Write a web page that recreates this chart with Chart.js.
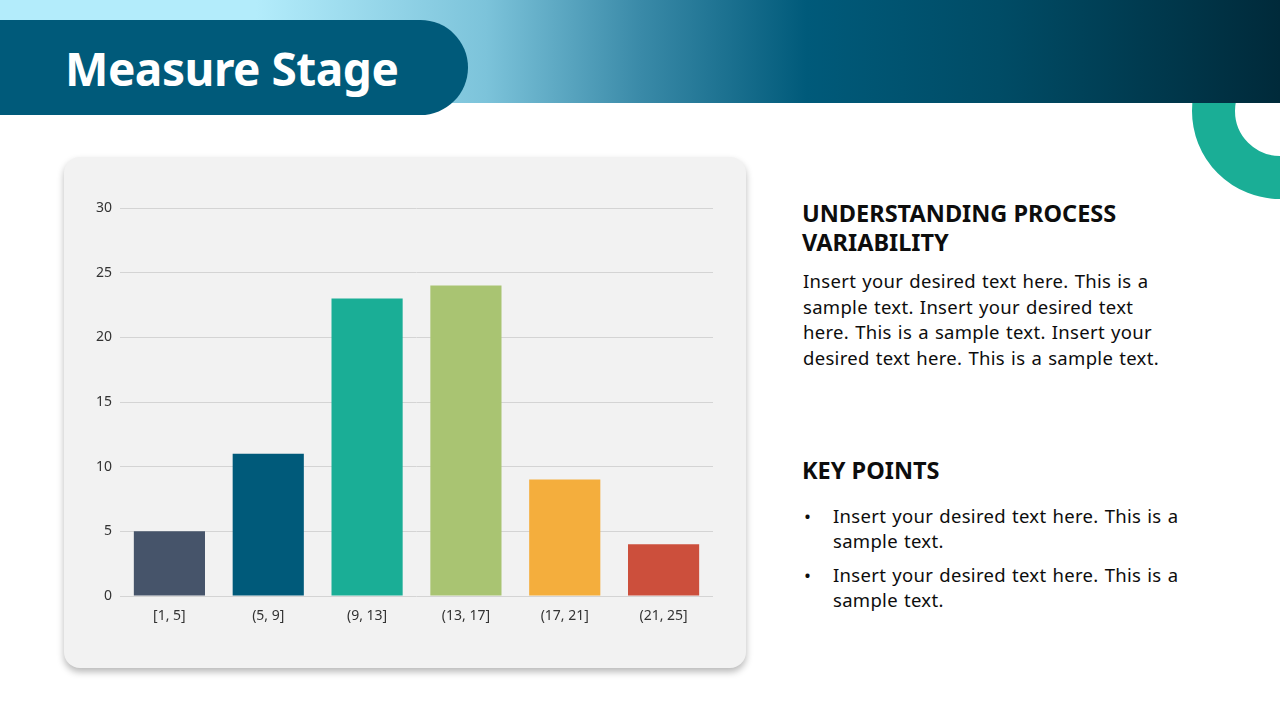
<!DOCTYPE html>
<html>
<head>
<meta charset="utf-8">
<script src="https://cdn.jsdelivr.net/npm/chart.js@4.4.1/dist/chart.umd.min.js"></script>
<style>
    html, body { margin: 0; padding: 0; }
    body { width: 1280px; height: 720px; position: relative; overflow: hidden; background: #fff; font-family: "Noto Sans", sans-serif; }
    .ring { position: absolute; left: 1192px; top: 23px; width: 176px; height: 176px; border-radius: 50%; box-sizing: border-box; border: 43px solid #1aae96; }
    .band { position: absolute; left: 0; top: 0; width: 1280px; height: 103px;
        background: linear-gradient(90deg, #b3ecfb 0%, #b3ecfb 20%, #7cc3da 38%, #3a8aa8 50%, #005a7a 63%, #004c66 78%, #002a3a 100%); }
    .pill { position: absolute; left: 0; top: 20px; width: 468px; height: 95px; background: #005a7a; border-radius: 0 48px 48px 0; }
    .title { position: absolute; left: 65px; top: 37px; color: #fff; font-weight: bold; font-size: 46px; line-height: 62px; letter-spacing: -0.5px; }
    .card { position: absolute; left: 64px; top: 157px; width: 682px; height: 511px; background: #f2f2f2; border-radius: 16px; box-shadow: 0 4px 7px rgba(0,0,0,0.28); }
    #chart-box { position: absolute; left: 64px; top: 157px; width: 682px; height: 511px; }
    .side { position: absolute; left: 802px; width: 420px; color: #0d0d0d; }
    .side h2 { margin: 0; font-size: 23.5px; font-weight: bold; line-height: 29px; }
    .side p { margin: 11px 0 0 1px; font-size: 18.5px; line-height: 25.5px; white-space: nowrap; letter-spacing: 0.3px; word-spacing: 1px; }
    .side ul { margin: 18px 0 0 0; padding: 0; list-style: none; font-size: 18.5px; line-height: 25px; white-space: nowrap; letter-spacing: 0.3px; word-spacing: 1px; }
    .side li { position: relative; padding-left: 31px; margin-bottom: 9px; }
    .side li::before { content: "\2022"; position: absolute; left: 2px; }
</style>
</head>
<body>
<div class="ring"></div>
<div class="band"></div>
<div class="pill"></div>
<div class="title">Measure Stage</div>

<div class="card"></div>
<div id="chart-box"><canvas id="histogram"></canvas></div>

<div class="side" style="top:199px">
    <h2>UNDERSTANDING PROCESS<br>VARIABILITY</h2>
    <p>Insert your desired text here. This is a<br>sample text. Insert your desired text<br>here. This is a sample text. Insert your<br>desired text here. This is a sample text.</p>
</div>
<div class="side" style="top:456px">
    <h2>KEY POINTS</h2>
    <ul>
        <li>Insert your desired text here. This is a<br>sample text.</li>
        <li>Insert your desired text here. This is a<br>sample text.</li>
    </ul>
</div>

<script>
    // интервалы и частоты
    const bins = ['[1, 5]', '(5, 9]', '(9, 13]', '(13, 17]', '(17, 21]', '(21, 25]'];
    const counts = [5, 11, 23, 24, 9, 4];
    const barColors = ['#46546a', '#005a7a', '#1aae96', '#a9c472', '#f4ae3d', '#cc4f3c'];
    const yTicks = [0, 5, 10, 15, 20, 25, 30];

    const tickFont = {family: '"Noto Sans", sans-serif', size: 14};

    new Chart(document.getElementById('histogram'), {
        type: 'bar',
        data: {
            labels: bins,
            datasets: [{
                data: counts,
                backgroundColor: barColors,
                categoryPercentage: 0.72,
                barPercentage: 1
            }]
        },
        options: {
            responsive: true,
            maintainAspectRatio: false,
            animation: false,
            layout: {padding: {left: 0, right: 33, top: 51, bottom: 0}},
            plugins: {legend: {display: false}, tooltip: {enabled: false}},
            scales: {
                x: {
                    grid: {display: false, drawTicks: false},
                    border: {display: false},
                    ticks: {color: '#333', font: tickFont, padding: 12},
                    afterFit: (scale) => { scale.height = 72; }
                },
                y: {
                    min: 0,
                    max: 30,
                    afterBuildTicks: (scale) => { scale.ticks = yTicks.map(v => ({value: v})); },
                    grid: {color: '#d4d4d4', drawTicks: false},
                    border: {display: false},
                    ticks: {color: '#333', font: tickFont, padding: 8},
                    afterFit: (scale) => { scale.width = 56; }
                }
            }
        }
    });
</script>
</body>
</html>
